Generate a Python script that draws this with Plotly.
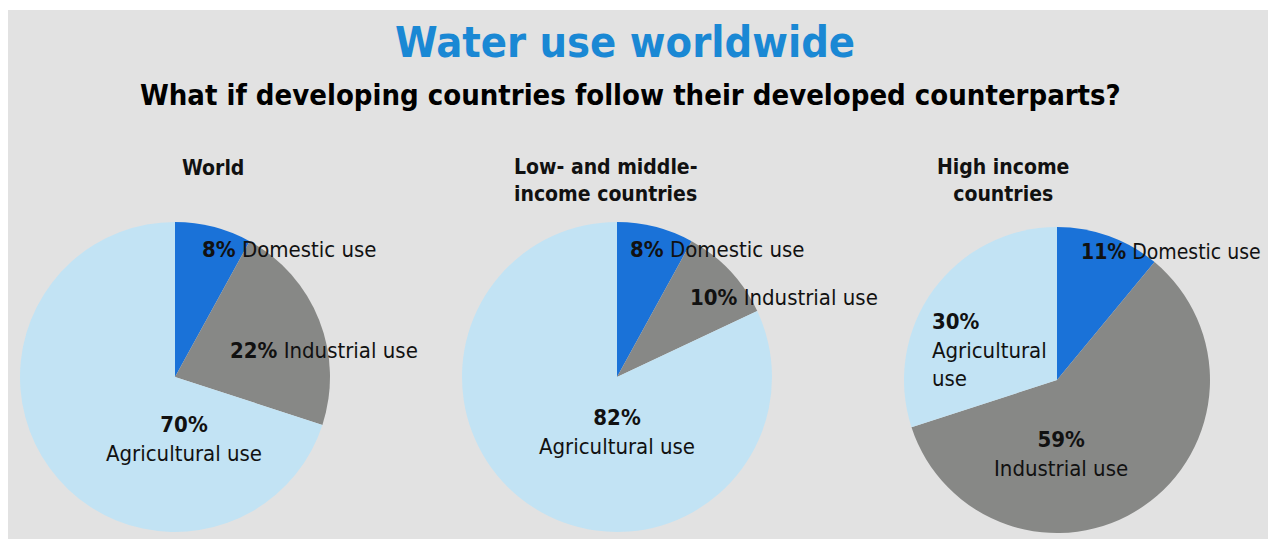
import plotly.graph_objects as go

W, H = 1271, 543

categories = ["Domestic use", "Industrial use", "Agricultural use"]
world = [8, 22, 70]
low_mid = [8, 10, 82]
high = [11, 59, 30]
groups = ["World", "Low- and middle-<br>income countries", "High income<br>countries"]

colors = ["#1a72d8", "#878886", "#c2e3f4"]
FONT = "DejaVu Sans Condensed, Liberation Sans Narrow, Arial Narrow, sans-serif"

def px(x):
    return x / W

def py(y):
    return 1 - y / H

# pie centres / radii in pixels (layout)
pies = [(world, 175, 377, 155), (low_mid, 617, 377, 155), (high, 1057, 380, 153)]

fig = go.Figure()
for vals, cx, cy, r in pies:
    fig.add_trace(go.Pie(
        labels=categories, values=vals, sort=False, direction="clockwise",
        rotation=0, marker=dict(colors=colors, line=dict(width=0)),
        textinfo="none", hoverinfo="label+percent", showlegend=False,
        domain=dict(x=[px(cx - r), px(cx + r)], y=[py(cy + r), py(cy - r)]),
    ))

def ann(x, y, text, size=22, align="left", xanchor="left", color="#111111"):
    fig.add_annotation(x=px(x), y=py(y), xref="paper", yref="paper",
                       text=text, showarrow=False, align=align, xanchor=xanchor,
                       yanchor="middle",
                       font=dict(family=FONT, size=size, color=color))

def pct(v, name, sep=" "):
    return f"<b>{v}%</b>{sep}{name}"

# titles
ann(625, 42, "<b>Water use worldwide</b>", size=43, align="center", xanchor="center", color="#1a88d4")
ann(630, 95, "<b>What if developing countries follow their developed counterparts?</b>", size=29,
    align="center", xanchor="center", color="#000000")

# group titles
ann(180, 168, f"<b>{groups[0]}</b>", size=21)
ann(512, 181, f"<b>{groups[1]}</b>", size=21)
ann(1003, 181, f"<b>{groups[2]}</b>", size=21, align="center", xanchor="center")

# World labels
ann(200, 250, pct(world[0], categories[0]))
ann(228, 350, pct(world[1], categories[1]))
ann(184, 439, pct(world[2], "Agricultural use", "<br>"), align="center", xanchor="center")

# Low/middle labels
ann(628, 250, pct(low_mid[0], categories[0]))
ann(688, 297, pct(low_mid[1], categories[1]))
ann(617, 432, pct(low_mid[2], "Agricultural use", "<br>"), align="center", xanchor="center")

# High income labels
ann(1079, 252, pct(high[0], categories[0]), size=21)
ann(930, 350, pct(high[2], "Agricultural<br>use", "<br>"))
ann(1061, 454, pct(high[1], categories[1], "<br>"), align="center", xanchor="center")

# grey panel background with white frame
fig.add_shape(type="rect", xref="paper", yref="paper", layer="below",
              x0=px(8), x1=px(1268), y0=py(539), y1=py(10),
              fillcolor="#e2e2e2", line=dict(width=0))

fig.update_layout(width=W, height=H, margin=dict(l=0, r=0, t=0, b=0),
                  paper_bgcolor="#ffffff", plot_bgcolor="#ffffff",
                  font=dict(family=FONT))
fig.write_html("out.html", config={"displayModeBar": False},
               post_script="document.body.style.margin='0';")
